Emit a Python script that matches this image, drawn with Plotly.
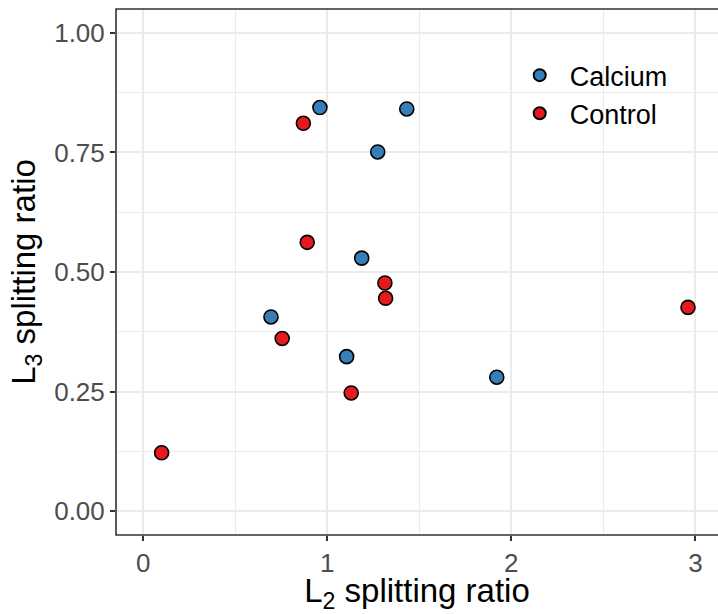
import plotly.graph_objects as go

# Data
calcium_x = [0.960, 1.432, 1.274, 1.187, 0.694, 1.105, 1.921]
calcium_y = [0.844, 0.841, 0.751, 0.529, 0.406, 0.323, 0.280]
control_x = [0.870, 0.891, 1.313, 1.317, 0.755, 1.130, 0.100, 2.960]
control_y = [0.811, 0.562, 0.477, 0.445, 0.361, 0.247, 0.122, 0.426]

x_ticks = [0, 1, 2, 3]
y_ticks = [0.0, 0.25, 0.5, 0.75, 1.0]
y_ticklabels = ["0.00", "0.25", "0.50", "0.75", "1.00"]

FONT = "Liberation Sans, Arial, sans-serif"

fig = go.Figure()
fig.add_trace(go.Scatter(
    x=calcium_x, y=calcium_y, mode="markers", name="Calcium",
    marker=dict(size=14, color="#377EB8", line=dict(color="black", width=1.6)),
))
fig.add_trace(go.Scatter(
    x=control_x, y=control_y, mode="markers", name="Control",
    marker=dict(size=14, color="#E41A1C", line=dict(color="black", width=1.6)),
))

axis_common = dict(
    showgrid=True, gridcolor="#EBEBEB", gridwidth=2,
    zeroline=False, showline=False,
    ticks="outside", ticklen=5, tickwidth=1.5, tickcolor="#333333",
    tickfont=dict(family=FONT, size=26, color="#4D4D4D"),
)

fig.update_layout(
    width=718, height=614,
    margin=dict(l=116, r=0, t=9, b=79, autoexpand=False),
    plot_bgcolor="white", paper_bgcolor="white",
    font=dict(family=FONT, color="black"),
    xaxis=dict(
        range=[-0.148, 3.123], tickvals=x_ticks, ticktext=[str(v) for v in x_ticks],
        minor=dict(showgrid=True, gridcolor="#EBEBEB", gridwidth=1.2, ticks="",
                   tick0=0, dtick=0.5),
        title=dict(text="L<sub>2</sub> splitting ratio", font=dict(family=FONT, size=33, color="black"), standoff=6),
        automargin=False,
        **axis_common,
    ),
    yaxis=dict(
        range=[-0.05, 1.05], tickvals=y_ticks, ticktext=y_ticklabels,
        minor=dict(showgrid=True, gridcolor="#EBEBEB", gridwidth=1.2, ticks="",
                   tick0=0, dtick=0.125),
        title=dict(text="L<sub>3</sub> splitting ratio", font=dict(family=FONT, size=33, color="black"), standoff=8),
        automargin=False,
        **axis_common,
    ),
    legend=dict(
        x=0.654, y=0.92, xanchor="left", yanchor="top",
        bgcolor="rgba(0,0,0,0)", font=dict(family=FONT, size=27, color="black"),
        itemsizing="constant", itemwidth=50,
    ),
    shapes=[dict(type="rect", xref="paper", yref="paper", x0=0, x1=1.02, y0=0, y1=1,
                 line=dict(color="#333333", width=1.6), layer="above")],
)

fig.write_html("out.html")
